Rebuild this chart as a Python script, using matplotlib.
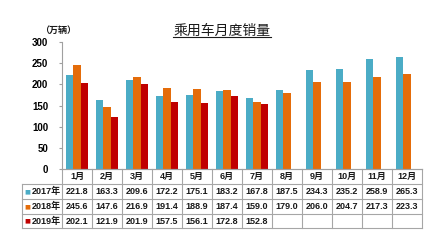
import matplotlib
matplotlib.use("Agg")
import matplotlib.pyplot as plt
from matplotlib.transforms import blended_transform_factory
import numpy as np

plt.rcParams['font.family'] = ['Liberation Sans', 'Noto Sans CJK SC', 'DejaVu Sans']

months = ['1月', '2月', '3月', '4月', '5月', '6月', '7月', '8月', '9月', '10月', '11月', '12月']
years = ['2017年', '2018年', '2019年']
sales_2017 = [221.8, 163.3, 209.6, 172.2, 175.1, 183.2, 167.8, 187.5, 234.3, 235.2, 258.9, 265.3]
sales_2018 = [245.6, 147.6, 216.9, 191.4, 188.9, 187.4, 159.0, 179.0, 206.0, 204.7, 217.3, 223.3]
sales_2019 = [202.1, 121.9, 201.9, 157.5, 156.1, 172.8, 152.8]
colors = ['#4BACC6', '#E46C0A', '#C00000']

W, H = 440, 240
fig = plt.figure(figsize=(W / 100, H / 100), dpi=100)
ax = fig.add_axes([62 / W, 1 - 169 / H, 360 / W, 127 / H])

bw = 0.245
series = [sales_2017, sales_2018, sales_2019]
for k, vals in enumerate(series):
    x = np.arange(len(vals)) + (k - 1) * bw
    ax.bar(x, vals, width=bw, color=colors[k], linewidth=0)

ax.set_xlim(-0.5, len(months) - 0.5)
ax.set_ylim(0, 300)
ax.set_yticks([0, 50, 100, 150, 200, 250, 300])
ax.set_xticks([])
for lab in ax.get_yticklabels():
    lab.set_fontweight('bold')
ax.tick_params(axis='y', labelsize=7, length=2, color='#A0A0A0', pad=8)
for s in ['top', 'right']:
    ax.spines[s].set_visible(False)
ax.spines['left'].set_color('#A0A0A0')
ax.spines['bottom'].set_color('#A0A0A0')

# data table under the axis
tr = blended_transform_factory(ax.transData, ax.transAxes)
rows_px = [169, 184, 199, 214, 228]
rows_y = [(169 - p) / 127 for p in rows_px]
grid = '#A6A6A6'
label_left = -0.5 - 40 / 30
n = len(months)
kw = dict(transform=tr, clip_on=False, color=grid, lw=0.8)

# horizontal lines
ax.plot([-0.5, n - 0.5], [rows_y[0]] * 2, **kw)
for y in rows_y[1:]:
    ax.plot([label_left, n - 0.5], [y, y], **kw)
# vertical lines
for i in range(n + 1):
    ax.plot([i - 0.5, i - 0.5], [rows_y[0], rows_y[-1]], **kw)
ax.plot([label_left, label_left], [rows_y[1], rows_y[-1]], **kw)

tkw = dict(transform=tr, clip_on=False, ha='center', va='center',
           fontsize=6.5, fontweight='bold', color='#1A1A1A')
for i, m in enumerate(months):
    ax.text(i, (rows_y[0] + rows_y[1]) / 2, m, **tkw)
for r, vals in enumerate(series):
    yc = (rows_y[r + 1] + rows_y[r + 2]) / 2
    ax.text(label_left + 0.08, yc, '■', transform=tr, clip_on=False,
            ha='left', va='center', fontsize=4.5, color=colors[r],
            family=['DejaVu Sans'])
    ax.text(label_left + 0.82, yc, years[r], **tkw)
    for i, v in enumerate(vals):
        ax.text(i, yc, f'{v:.1f}', **tkw)

# title with underline
title = fig.text(222 / W, 1 - 31 / H, '乘用车月度销量', ha='center', va='center',
                 fontsize=10, color='#1A1A1A')
fig.text(58 / W, 1 - 30 / H, '（万辆）', ha='center', va='center',
         fontsize=6.5, fontweight='bold', color='#1A1A1A',
         family=['Noto Sans CJK SC'])
fig.canvas.draw()
bb = title.get_window_extent().transformed(fig.transFigure.inverted())
fig.add_artist(plt.Line2D([bb.x0, bb.x1], [bb.y0 + 0.004, bb.y0 + 0.004],
                          transform=fig.transFigure, color='#1A1A1A', lw=0.8))

fig.savefig('out.png', dpi=100)
